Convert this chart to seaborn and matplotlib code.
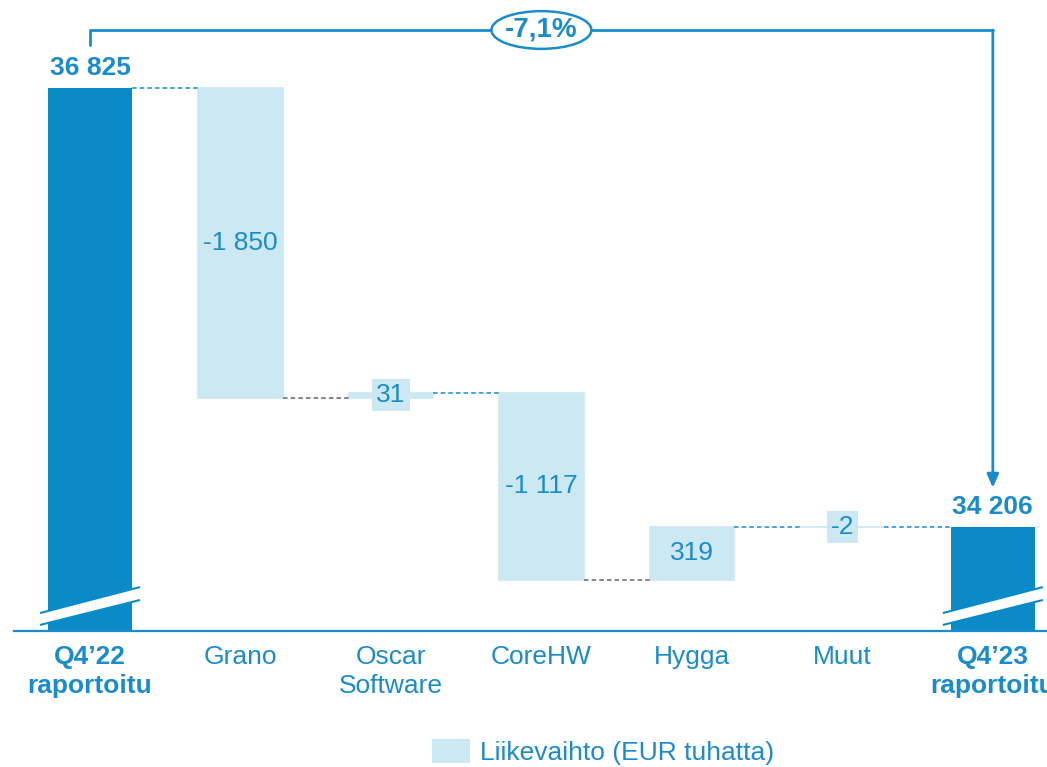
import numpy as np
import matplotlib
matplotlib.use("Agg")
import matplotlib.pyplot as plt
from matplotlib.patches import Ellipse, Patch, Polygon
import seaborn as sns

sns.set_style("white")
plt.rcParams['font.family'] = ['Liberation Sans', 'DejaVu Sans']

# data (EUR thousands)
categories = ["Q4\u201922\nraportoitu", "Grano", "Oscar\nSoftware", "CoreHW",
              "Hygga", "Muut", "Q4\u201923\nraportoitu"]
start_total = 36825
changes = [-1850, 31, -1117, 319, -2]
end_total = 34206
change_labels = ["-1 850", "31", "-1 117", "319", "-2"]
total_labels = ["36 825", "34 206"]
pct_label = "-7,1%"
legend_label = "Liikevaihto (EUR tuhatta)"

DARK = "#0a8bc8"
LIGHT = "#cce8f3"
TXT = "#1a8ccc"
GREY = "#606870"
FS = 19

# running levels
levels = [start_total]
for c in changes:
    levels.append(levels[-1] + c)
chg_cats = categories[1:6]
chg_bottom = [min(levels[i], levels[i + 1]) for i in range(len(changes))]
chg_height = [abs(c) for c in changes]

fig = plt.figure(figsize=(10.47, 7.67), dpi=100)
ax = fig.add_axes([14 / 1047, 1 - 631 / 767, 1 - 14 / 1047, 631 / 767])

W = 0.56
sns.barplot(x=[categories[0], categories[6]], y=[start_total, end_total], order=categories,
            color=DARK, saturation=1, width=W, linewidth=0, ax=ax)
sns.barplot(x=chg_cats, y=chg_height, order=categories, bottom=chg_bottom,
            color=LIGHT, saturation=1, width=W, linewidth=1.2, edgecolor=LIGHT, ax=ax)

ymin, ymax = 33585, 37350
ax.set_ylim(ymin, ymax)
ax.set_xlim(-0.505, 6.36)
ax.set_yticks([])
ax.set_xlabel("")
ax.set_ylabel("")
for s in ["left", "right", "top"]:
    ax.spines[s].set_visible(False)
ax.spines["bottom"].set_color(TXT)
ax.spines["bottom"].set_linewidth(1.6)
ax.tick_params(axis="x", length=0, pad=10, labelsize=FS, labelcolor=TXT)
for i, t in enumerate(ax.get_xticklabels()):
    t.set_linespacing(1.28)
    if i in (0, 6):
        t.set_fontweight("bold")

# connectors
h = W / 2
for i in range(6):
    col = GREY if i in (1, 3) else TXT
    ax.plot([i + h, i + 1 - h], [levels[i], levels[i]], ls=(0, (3, 2)), lw=1.1, color=col, zorder=3)

# change labels
for i, lab in enumerate(change_labels):
    x = i + 1
    yc = chg_bottom[i] + chg_height[i] / 2
    if chg_height[i] < 100:
        ax.text(x, yc, lab, ha="center", va="center", fontsize=FS, color=TXT, zorder=5,
                bbox=dict(boxstyle="square,pad=0.15", fc=LIGHT, ec="none"))
    else:
        ax.text(x, yc, lab, ha="center", va="center", fontsize=FS, color=TXT, zorder=5)

# total labels
for x, val, lab in [(0, start_total, total_labels[0]), (6, end_total, total_labels[1])]:
    ax.annotate(lab, (x, val), xytext=(0, 6), textcoords="offset points", ha="center",
                va="bottom", fontsize=FS, fontweight="bold", color=TXT)

# axis break marks
for x in (0, 6):
    xs = [x - 0.332, x + 0.332]
    top = [33692, 33847]
    bot = [33621, 33770]
    ax.add_patch(Polygon([(xs[0], top[0]), (xs[1], top[1]), (xs[1], bot[1]), (xs[0], bot[0])],
                         closed=True, fc="white", ec="none", zorder=4))
    ax.plot(xs, top, color=DARK, lw=1.5, zorder=4, solid_capstyle="butt")
    ax.plot(xs, bot, color=DARK, lw=1.5, zorder=4, solid_capstyle="butt")

# bracket with change percent
yb = 37171
ax.plot([0, 0, 6], [37082, yb, yb], color=TXT, lw=2, clip_on=False, zorder=5)
ax.annotate("", xy=(6, 34440), xytext=(6, yb),
            arrowprops=dict(arrowstyle="-|>,head_length=0.8,head_width=0.35", color=TXT, lw=2,
                            shrinkA=0, shrinkB=0), zorder=5)
ax.add_patch(Ellipse((3, yb), 0.664, 225, fc="white", ec=TXT, lw=1.8, zorder=6, clip_on=False))
ax.text(3, yb, pct_label, ha="center", va="center", fontsize=20, fontweight="bold",
        color=TXT, zorder=7)

# legend
fig.legend(handles=[Patch(fc=LIGHT, ec="none")], labels=[legend_label], loc="center",
           bbox_to_anchor=(0.576, 0.02), frameon=False, fontsize=FS, labelcolor=TXT,
           handlelength=1.44, handleheight=1.02, handletextpad=0.38)

fig.savefig("out.png", dpi=100)
